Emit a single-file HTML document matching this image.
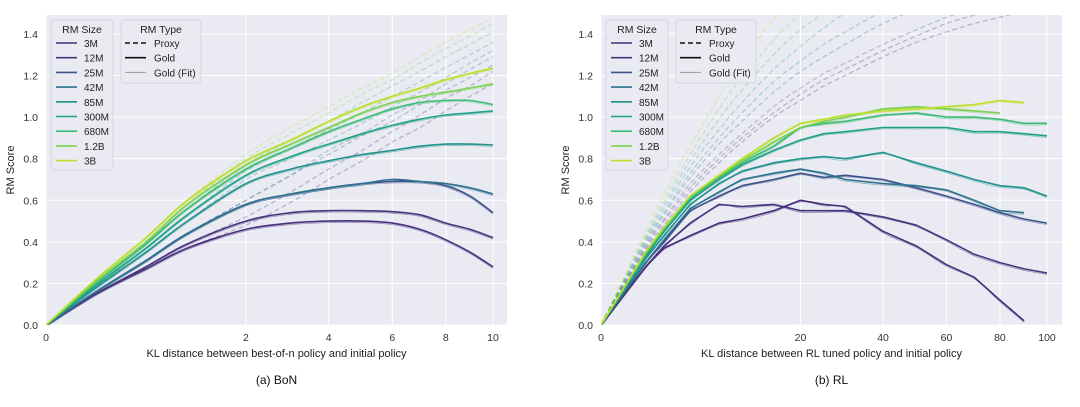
<!DOCTYPE html>
<html><head><meta charset="utf-8"><style>
body{margin:0;background:#fff;width:1080px;height:402px;overflow:hidden;font-family:"Liberation Sans",sans-serif}
svg text{font-family:"Liberation Sans",sans-serif}
</style></head><body>
<svg id="s" width="1080" height="402"></svg>
<script>
const sizes=["3M","12M","25M","42M","85M","300M","680M","1.2B","3B"];
const colors=["#472d7b","#46337e","#3b528b","#2c728e","#21918c","#1fa187","#3bbb75","#7ad151","#bddf26"];
const yTicks=[0,0.2,0.4,0.6,0.8,1.0,1.2,1.4];
// BoN
const bonKL=[0,0.125,0.5,1,2,3,4,5,6,7,8,9,10];
const bonXTicks=[0,2,4,6,8,10];
const bonGold=[
[0,.15,.27,.37,.46,.49,.50,.50,.49,.46,.41,.35,.28],
[0,.15,.28,.39,.50,.54,.55,.55,.545,.53,.49,.46,.42],
[0,.16,.31,.44,.58,.63,.66,.68,.69,.69,.67,.62,.54],
[0,.16,.31,.44,.58,.63,.66,.68,.70,.69,.68,.66,.63],
[0,.18,.35,.50,.68,.75,.79,.82,.84,.86,.87,.87,.866],
[0,.19,.37,.53,.72,.81,.87,.92,.96,.99,1.01,1.02,1.03],
[0,.20,.39,.56,.75,.85,.93,.99,1.04,1.07,1.08,1.08,1.06],
[0,.21,.40,.58,.77,.87,.95,1.02,1.07,1.10,1.12,1.14,1.16],
[0,.22,.42,.60,.79,.89,.98,1.05,1.10,1.14,1.18,1.21,1.235]];
const bonProxy=[
[0,.15,.27,.37,.48,.59,.70,.79,.88,.95,1.03,1.10,1.16],
[0,.15,.28,.39,.52,.64,.75,.84,.93,1.01,1.09,1.15,1.22],
[0,.16,.31,.44,.60,.72,.82,.91,.98,1.06,1.13,1.19,1.25],
[0,.16,.31,.44,.60,.72,.84,.92,1.01,1.08,1.16,1.23,1.29],
[0,.18,.35,.50,.70,.80,.89,.97,1.05,1.12,1.19,1.26,1.32],
[0,.19,.37,.53,.74,.85,.94,1.02,1.10,1.17,1.24,1.30,1.36],
[0,.20,.39,.56,.77,.89,.98,1.07,1.15,1.22,1.29,1.35,1.41],
[0,.21,.40,.58,.80,.92,1.02,1.11,1.18,1.26,1.33,1.39,1.45],
[0,.22,.42,.60,.82,.95,1.05,1.14,1.21,1.29,1.36,1.42,1.48]];
// RL
const rlKL=[0,1,2,4,7,10,15,20,25,30,40,50,60,70,80,90,100];
const rlXTicks=[0,20,40,60,80,100];
const rlGold=[
[0,.28,.37,.43,.49,.51,.55,.60,.58,.57,.45,.38,.29,.23,.12,.02,null],
[0,.28,.38,.49,.58,.57,.58,.55,.55,.55,.52,.48,.41,.34,.30,.27,.25],
[0,.30,.40,.55,.62,.67,.70,.73,.71,.72,.70,.66,.62,.58,.54,.51,.49],
[0,.30,.41,.56,.64,.70,.73,.75,.73,.70,.68,.67,.65,.60,.55,.54,null],
[0,.32,.43,.58,.68,.74,.78,.80,.81,.80,.83,.78,.74,.70,.67,.66,.62],
[0,.33,.45,.60,.70,.77,.84,.89,.92,.93,.95,.95,.95,.93,.93,.92,.91],
[0,.34,.46,.61,.71,.78,.86,.95,.97,.98,1.01,1.02,1.0,1.0,.99,.97,.97],
[0,.35,.47,.62,.72,.79,.88,.95,.98,1.0,1.04,1.05,1.04,1.03,1.02,null,null],
[0,.35,.47,.62,.72,.80,.90,.97,.99,1.01,1.03,1.04,1.05,1.06,1.08,1.07,null]];
const rlProxy=[
[0,.36,.48,.64,.78,.88,1.00,1.08,1.15,1.20,1.29,1.36,1.41,1.45,1.48,1.51,1.54],
[0,.37,.50,.66,.80,.90,1.02,1.11,1.18,1.23,1.32,1.39,1.45,1.49,1.52,1.55,1.58],
[0,.38,.51,.68,.82,.92,1.05,1.14,1.21,1.26,1.35,1.42,1.48,1.52,1.56,1.60,1.60],
[0,.39,.53,.71,.87,.98,1.12,1.22,1.29,1.35,1.45,1.52,1.58,1.60,1.60,1.60,1.60],
[0,.40,.54,.73,.90,1.02,1.17,1.27,1.35,1.41,1.51,1.58,1.60,1.60,1.60,1.60,1.60],
[0,.41,.56,.76,.94,1.07,1.23,1.34,1.43,1.50,1.60,1.60,1.60,1.60,1.60,1.60,1.60],
[0,.42,.58,.79,.99,1.13,1.30,1.42,1.50,1.57,1.60,1.60,1.60,1.60,1.60,1.60,1.60],
[0,.43,.60,.82,1.04,1.19,1.37,1.50,1.58,1.60,1.60,1.60,1.60,1.60,1.60,1.60,1.60],
[0,.45,.63,.86,1.10,1.27,1.47,1.58,1.60,1.60,1.60,1.60,1.60,1.60,1.60,1.60,1.60]];

const NS="http://www.w3.org/2000/svg";
const svg=document.getElementById('s');
function el(tag,attrs,parent,txt){const e=document.createElementNS(NS,tag);for(const k in attrs)e.setAttribute(k,attrs[k]);if(txt!=null)e.textContent=txt;(parent||svg).appendChild(e);return e;}

function panel(cfg){
  const g=el('g',{});
  
  
  const L=cfg.x0,R=cfg.x1,T=15,B=325,xMax=cfg.xMax;
  const sx=v=>L+(cfg.tickR-L)*Math.sqrt(v)/Math.sqrt(xMax);
  const sy=v=>325-207.9*v;
  const bg=el('rect',{x:L,y:T,width:R-L,height:B-T,fill:'#eaeaf2'},g);
  
  const clipId='c'+cfg.name;
  const cp=el('clipPath',{id:clipId},g);el('rect',{x:L,y:T,width:R-L,height:B-T},cp);
  yTicks.forEach(t=>{el('line',{x1:L,x2:R,y1:sy(t),y2:sy(t),stroke:'#fff','stroke-width':1},g);
    const tx=el('text',{x:L-8,y:sy(t)+4,'text-anchor':'end','font-size':10.5,fill:'#333'},g,t.toFixed(1));
    });
  cfg.xTicks.forEach(t=>{el('line',{x1:sx(t),x2:sx(t),y1:T,y2:B,stroke:'#fff','stroke-width':1},g);
    const tx=el('text',{x:sx(t),y:B+16,'text-anchor':'middle','font-size':10.5,fill:'#333'},g,String(t));
    });
  const lines=el('g',{'clip-path':'url(#'+clipId+')'},g);
  function path(vals,kl,smooth){
    const pts=[];vals.forEach((v,i)=>{if(v!=null)pts.push([sx(kl[i]),sy(v)]);});
    if(!pts.length)return '';
    let d='M'+pts[0][0].toFixed(1)+','+pts[0][1].toFixed(1);
    for(let i=1;i<pts.length;i++){
      if(!smooth){d+='L'+pts[i][0].toFixed(1)+','+pts[i][1].toFixed(1);continue;}
      const p0=pts[Math.max(0,i-2)],p1=pts[i-1],p2=pts[i],p3=pts[Math.min(pts.length-1,i+1)];
      const c1=[p1[0]+(p2[0]-p0[0])/6,p1[1]+(p2[1]-p0[1])/6],c2=[p2[0]-(p3[0]-p1[0])/6,p2[1]-(p3[1]-p1[1])/6];
      d+='C'+c1.map(n=>n.toFixed(1))+' '+c2.map(n=>n.toFixed(1))+' '+p2.map(n=>n.toFixed(1));
    }
    return d;}
  cfg.proxy.forEach((s,i)=>{const p=el('path',{d:path(s,cfg.kl,true),fill:'none',stroke:colors[i],'stroke-opacity':0.3,'stroke-width':1.3,'stroke-dasharray':'5,3'},lines);
    });
  cfg.gold.forEach((s,i)=>{const p=el('path',{d:path(s,cfg.kl,true),fill:'none',stroke:colors[i],'stroke-opacity':0.5,'stroke-width':0.8,transform:'translate(0,1.5)'},lines);
    });
  cfg.gold.forEach((s,i)=>{const p=el('path',{d:path(s,cfg.kl,cfg.smooth),fill:'none',stroke:colors[i],'stroke-width':1.6,'stroke-linejoin':'round'},lines);
    });
  const xt=el('text',{x:(L+R)/2,y:B+32,'text-anchor':'middle','font-size':11,fill:'#222'},g,cfg.xlabel);
  
  const yt=el('text',{x:0,y:0,transform:`translate(${L-32},${(T+B)/2}) rotate(-90)`,'text-anchor':'middle','font-size':11,fill:'#222'},g,'RM Score');
  
  const cap=el('text',{x:(L+R)/2,y:384,'text-anchor':'middle','font-size':12,fill:'#111','font-family':'Liberation Serif, serif'},g,cfg.caption);
  
  const lg=el('g',{},g);
  const lx=L+5;
  el('rect',{x:lx,y:20,width:62,height:150,rx:3,fill:'#eaeaf2',stroke:'#d6d6de'},lg);
  el('text',{x:lx+31,y:33,'text-anchor':'middle','font-size':10.5,fill:'#222'},lg,'RM Size');
  sizes.forEach((s,i)=>{const yy=43+i*14.7;const e=el('g',{},lg);
    
    el('line',{x1:lx+5,x2:lx+26,y1:yy,y2:yy,stroke:colors[i],'stroke-width':1.6},e);
    el('text',{x:lx+33,y:yy+4,'font-size':10,fill:'#222'},e,s);});
  const lg2=el('g',{},g);
  const l2=L+75;
  el('rect',{x:l2,y:20,width:80,height:63,rx:3,fill:'#eaeaf2',stroke:'#d6d6de'},lg2);
  el('text',{x:l2+40,y:33,'text-anchor':'middle','font-size':10.5,fill:'#222'},lg2,'RM Type');
  [['Proxy','5,3','#111',1.5],['Gold',null,'#111',1.6],['Gold (Fit)',null,'#999',1]].forEach((r,i)=>{const yy=43+i*14.7;
    const a={x1:l2+4,x2:l2+25,y1:yy,y2:yy,stroke:r[2],'stroke-width':r[3]};if(r[1])a['stroke-dasharray']=r[1];
    el('line',a,lg2);el('text',{x:l2+33,y:yy+4,'font-size':10,fill:'#222'},lg2,r[0]);});
}
panel({name:'bon-panel',x0:46,x1:507,tickR:493,xMax:10,xTicks:bonXTicks,kl:bonKL,gold:bonGold,proxy:bonProxy,smooth:true,xlabel:'KL distance between best-of-n policy and initial policy',caption:'(a) BoN'});
panel({name:'rl-panel',x0:601,x1:1062,tickR:1047,xMax:100,xTicks:rlXTicks,kl:rlKL,gold:rlGold,proxy:rlProxy,smooth:false,xlabel:'KL distance between RL tuned policy and initial policy',caption:'(b) RL'});
</script>
</body></html>
